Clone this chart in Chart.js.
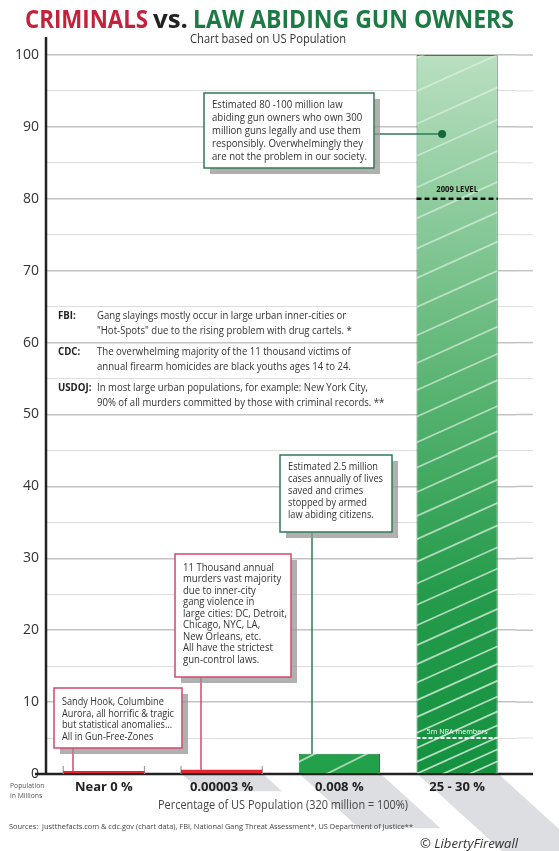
<!DOCTYPE html>
<html lang="en">
<head>
    <meta charset="UTF-8">
    <title>Criminals vs. Law Abiding Gun Owners</title>
    <script src="https://cdn.jsdelivr.net/npm/chart.js"></script>
    <style>
        body {
            margin: 0;
            padding: 0;
            background: #ffffff;
        }
        #wrap {
            width: 559px;
            height: 851px;
        }
    </style>
</head>
<body>
    <div id="wrap"><canvas id="gunChart" width="559" height="851"></canvas></div>

    <script>
        // data (population in millions)
        const categories = ['Near 0 %', '0.00003 %', '0.008 %', '25 - 30 %'];
        const populationMillions = [0.4, 0.6, 2.8, 100];
        const yMin = 0;
        const yMax = 100;
        const yTickStep = 5;
        const yLabelStep = 10;
        const level2009 = 80;
        const nraMembers = 5;
        const ownersDot = 89;

        const ownersNote = ['Estimated 80 -100 million law', 'abiding gun owners who own 300', 'million guns legally and use them', 'responsibly. Overwhelmingly they', 'are not the problem in our society.'];
        const savedNote = ['Estimated 2.5 million', 'cases annually of lives', 'saved and crimes', 'stopped by armed', 'law abiding citizens.'];
        const murdersNote = ['11 Thousand annual', 'murders vast majority', 'due to inner-city', 'gang violence in', 'large cities: DC, Detroit,', 'Chicago, NYC, LA,', 'New Orleans, etc.', 'All have the strictest', 'gun-control laws.'];
        const anomalyNote = ['Sandy Hook, Columbine', 'Aurora, all horrific & tragic', 'but statistical anomalies...', 'All in Gun-Free-Zones'];
        const agencyLabels = ['FBI:', 'CDC:', 'USDOJ:'];
        const agencyText = [
            ['Gang slayings mostly occur in large urban inner-cities or', '"Hot-Spots" due to the rising problem with drug cartels. *'],
            ['The overwhelming majority of the 11 thousand victims of', 'annual firearm homicides are black youths ages 14 to 24.'],
            ['In most large urban populations, for example: New York City,', '90% of all murders committed by those with criminal records. **']
        ];

        const GREEN_LINE = '#2e7a55';
        const RED_LINE = '#d2486a';
        const FONT = '"Open Sans", "Noto Sans", sans-serif';

        // text squeezed horizontally to look like the narrow original face
        function squeezed(ctx, str, x, y, font, color, sx, align) {
            ctx.save();
            ctx.font = font;
            ctx.fillStyle = color;
            ctx.textBaseline = 'middle';
            const w = ctx.measureText(str).width * sx;
            let left = x;
            if (align === 'center') left = x - w / 2;
            ctx.translate(left, y);
            ctx.scale(sx, 1);
            ctx.textAlign = 'left';
            ctx.fillText(str, 0, 0);
            ctx.restore();
        }

        function fitWidth(ctx, str, font, width) {
            ctx.save();
            ctx.font = font;
            const w = ctx.measureText(str).width;
            ctx.restore();
            return width / w;
        }

        function callout(ctx, box, lines, color, refLine, refWidth) {
            const font = '10.5px ' + FONT;
            const sx = fitWidth(ctx, lines[refLine], font, refWidth);
            ctx.save();
            ctx.fillStyle = 'rgba(150,150,150,0.75)';
            ctx.fillRect(box.x + 6, box.y + 6, box.w, box.h);
            ctx.fillStyle = '#ffffff';
            ctx.fillRect(box.x, box.y, box.w, box.h);
            ctx.strokeStyle = color;
            ctx.lineWidth = 1.5;
            ctx.strokeRect(box.x, box.y, box.w, box.h);
            ctx.restore();
            lines.forEach((t, i) => squeezed(ctx, t, box.x + 8, box.first + i * box.step, font, '#333333', sx));
        }

        function connector(ctx, x1, y1, x2, y2, color) {
            ctx.save();
            ctx.strokeStyle = color;
            ctx.lineWidth = 1.5;
            ctx.beginPath();
            ctx.moveTo(x1, y1);
            ctx.lineTo(x2, y2);
            ctx.stroke();
            ctx.restore();
        }

        // diagonal white hatching inside a bar, denser towards the bottom
        function hatch(ctx, el, slope, spacingFn, alphaFn) {
            const left = el.x - el.width / 2, right = el.x + el.width / 2;
            const top = el.y, bottom = el.base;
            ctx.save();
            ctx.beginPath();
            ctx.rect(left, top, right - left, bottom - top);
            ctx.clip();
            ctx.lineWidth = 1.8;
            const w = right - left;
            let y = bottom + slope * w;
            while (y > top) {
                const frac = Math.min(1, Math.max(0, (bottom - y) / (bottom - top)));
                ctx.strokeStyle = 'rgba(255,255,255,' + alphaFn(frac) + ')';
                ctx.beginPath();
                ctx.moveTo(left, y);
                ctx.lineTo(right, y - slope * w);
                ctx.stroke();
                y -= spacingFn(frac);
            }
            ctx.restore();
        }

        const decorPlugin = {
            id: 'decor',
            beforeDraw(chart) {
                const ctx = chart.ctx;
                const meta = chart.getDatasetMeta(0);
                // long grey shadows falling down-right from the bar feet
                const lengths = [0, 18, 55, 95];
                ctx.save();
                ctx.fillStyle = '#dcdee1';
                meta.data.forEach((el, i) => {
                    const L = lengths[i];
                    if (!L) return;
                    const l = el.x - el.width / 2, r = el.x + el.width / 2, b = el.base;
                    ctx.beginPath();
                    ctx.moveTo(l, b);
                    ctx.lineTo(r, b);
                    ctx.lineTo(r + L * 1.1, b + L);
                    ctx.lineTo(l + L * 1.1, b + L);
                    ctx.closePath();
                    ctx.fill();
                });
                ctx.restore();
            },
            beforeDatasetsDraw(chart) {
                const ctx = chart.ctx;
                const area = chart.chartArea;
                const yScale = chart.scales.y;
                ctx.save();
                // grid lines run a little past the last category
                yScale.ticks.forEach(t => {
                    const py = yScale.getPixelForValue(t.value);
                    const major = t.value % yLabelStep === 0;
                    ctx.strokeStyle = major ? '#c4c4c4' : '#dedede';
                    ctx.lineWidth = major ? 1.5 : 1;
                    ctx.beginPath();
                    ctx.moveTo(area.right, py);
                    ctx.lineTo(area.right + 17, py);
                    ctx.stroke();
                });
                // axes
                ctx.strokeStyle = '#222222';
                ctx.lineWidth = 2.5;
                ctx.beginPath();
                ctx.moveTo(area.left + 1, area.top - 18);
                ctx.lineTo(area.left + 1, area.bottom + 1);
                ctx.moveTo(area.left - 10, area.bottom);
                ctx.lineTo(area.right + 17, area.bottom);
                ctx.stroke();
                // little grey marks at the edges of the tiny bars
                const meta = chart.getDatasetMeta(0);
                ctx.strokeStyle = '#9a9a9a';
                ctx.lineWidth = 1.2;
                [0, 1].forEach(i => {
                    const el = meta.data[i];
                    [el.x - el.width / 2, el.x + el.width / 2].forEach(px => {
                        ctx.beginPath();
                        ctx.moveTo(px, area.bottom - 8);
                        ctx.lineTo(px, area.bottom);
                        ctx.stroke();
                    });
                });
                ctx.restore();
            },
            afterDatasetsDraw(chart) {
                const ctx = chart.ctx;
                const yScale = chart.scales.y;
                const meta = chart.getDatasetMeta(0);
                const b3 = meta.data[2], b4 = meta.data[3];

                hatch(ctx, b3, 0.5, () => 26, () => 0.6);
                hatch(ctx, b4, 0.45, f => 12 + 22 * Math.pow(f, 0.6), f => 0.7 - 0.3 * f);

                const l4 = b4.x - b4.width / 2, r4 = b4.x + b4.width / 2;

                // 2009 level
                const y80 = yScale.getPixelForValue(level2009);
                ctx.save();
                ctx.strokeStyle = '#111111';
                ctx.lineWidth = 2.5;
                ctx.setLineDash([5, 3]);
                ctx.beginPath();
                ctx.moveTo(l4, y80);
                ctx.lineTo(r4, y80);
                ctx.stroke();
                ctx.restore();
                squeezed(ctx, '2009 LEVEL', b4.x, y80 - 9, 'bold 8.5px ' + FONT, '#111111', 0.9, 'center');

                // NRA members
                const y5 = yScale.getPixelForValue(nraMembers);
                ctx.save();
                ctx.strokeStyle = '#ffffff';
                ctx.lineWidth = 2;
                ctx.setLineDash([4, 2]);
                ctx.beginPath();
                ctx.moveTo(l4, y5);
                ctx.lineTo(r4, y5);
                ctx.stroke();
                ctx.restore();
                squeezed(ctx, '5m NRA members', b4.x, y5 - 6, '8px ' + FONT, '#ffffff', 0.9, 'center');

                // agency notes
                const labelFont = 'bold 10.5px ' + FONT;
                const bodyFont = '10.5px ' + FONT;
                const bodySx = fitWidth(ctx, agencyText[2][0], bodyFont, 271);
                const rows = [316, 352, 388];
                agencyLabels.forEach((lab, i) => {
                    squeezed(ctx, lab, 58, rows[i], labelFont, '#222222', 0.92);
                    agencyText[i].forEach((t, j) => squeezed(ctx, t, 97, rows[i] + j * 15, bodyFont, '#333333', bodySx));
                });

                // callouts with their leader lines
                const dotX = b4.x - 15, dotY = yScale.getPixelForValue(ownersDot);
                connector(ctx, 374, dotY, dotX, dotY, GREEN_LINE);
                ctx.save();
                ctx.fillStyle = '#17683b';
                ctx.beginPath();
                ctx.arc(dotX, dotY, 4, 0, Math.PI * 2);
                ctx.fill();
                ctx.restore();
                callout(ctx, { x: 204, y: 93, w: 170, h: 75, first: 105.5, step: 12.8 }, ownersNote, GREEN_LINE, 4, 155);

                connector(ctx, 312, 532, 312, b3.y, GREEN_LINE);
                callout(ctx, { x: 280, y: 455, w: 112, h: 77, first: 467, step: 12 }, savedNote, GREEN_LINE, 1, 95);

                const b2 = meta.data[1], b1 = meta.data[0];
                connector(ctx, 201, 677, 201, b2.y, RED_LINE);
                callout(ctx, { x: 175, y: 554, w: 116, h: 123, first: 568, step: 11.5 }, murdersNote, RED_LINE, 4, 104);

                connector(ctx, 73, 748, 73, b1.y, RED_LINE);
                callout(ctx, { x: 54, y: 688, w: 128, h: 60, first: 702, step: 11.6 }, anomalyNote, RED_LINE, 1, 112);
            },
            afterDraw(chart) {
                const ctx = chart.ctx;
                const titleFont = 'bold 25px ' + FONT;
                const parts = [
                    ['CRIMINALS', 25, 123, '#c4213a'],
                    ['vs.', 153, 35, '#222222'],
                    ['LAW ABIDING GUN OWNERS', 193, 321, '#1d7a45']
                ];
                parts.forEach(p => squeezed(ctx, p[0], p[1], 21, titleFont, p[3], fitWidth(ctx, p[0], titleFont, p[2])));

                const sub = 'Chart based on US Population';
                squeezed(ctx, sub, 190, 40, '12px ' + FONT, '#333333', fitWidth(ctx, sub, '12px ' + FONT, 156));

                squeezed(ctx, 'Population', 10, 786, '8px ' + FONT, '#555555', 0.85);
                squeezed(ctx, 'in Millions', 10, 796, '8px ' + FONT, '#555555', 0.85);

                const xTitle = 'Percentage of US Population (320 million = 100%)';
                squeezed(ctx, xTitle, 158, 806, '12px ' + FONT, '#444444', fitWidth(ctx, xTitle, '12px ' + FONT, 250));

                const src = 'Sources:  justthefacts.com & cdc.gov (chart data), FBI, National Gang Threat Assessment*, US Department of Justice**';
                squeezed(ctx, src, 9, 827, '6.5px ' + FONT, '#444444', fitWidth(ctx, src, '6.5px ' + FONT, 404));

                const copy = '\u00A9 LibertyFirewall';
                squeezed(ctx, copy, 420, 844, 'italic 12.5px ' + FONT, '#333333', fitWidth(ctx, copy, 'italic 12.5px ' + FONT, 98));
            }
        };

        function barFill(context) {
            const i = context.dataIndex;
            if (i < 2) return '#e3262e';
            const chart = context.chart;
            const area = chart.chartArea;
            if (!area) return '#23a04a';
            if (i === 2) {
                const el = chart.getDatasetMeta(0).data[2];
                if (el && el.y !== undefined) {
                    const g3 = chart.ctx.createLinearGradient(0, el.y, 0, el.base);
                    g3.addColorStop(0, '#2fab56');
                    g3.addColorStop(1, '#1c9545');
                    return g3;
                }
                return '#23a04a';
            }
            const g = chart.ctx.createLinearGradient(0, area.top, 0, area.bottom);
            g.addColorStop(0, '#b9dfc0');
            g.addColorStop(0.45, '#5cb574');
            g.addColorStop(0.75, '#259b4b');
            g.addColorStop(1, '#14923f');
            return g;
        }

        new Chart(document.getElementById('gunChart'), {
            type: 'bar',
            data: {
                labels: categories,
                datasets: [{
                    label: 'Population in Millions',
                    data: populationMillions,
                    backgroundColor: barFill,
                    borderColor: ['#e3262e', '#e3262e', '#1b7d3c', '#2a8748'],
                    borderWidth: [0, 0, 1, 1],
                    borderSkipped: 'bottom',
                    barPercentage: 0.69,
                    categoryPercentage: 1
                }]
            },
            options: {
                responsive: false,
                animation: false,
                devicePixelRatio: 1,
                layout: { padding: { top: 55, right: 43, left: 0, bottom: 0 } },
                plugins: {
                    legend: { display: false },
                    tooltip: { enabled: false }
                },
                scales: {
                    x: {
                        afterFit: s => { s.height = 77; },
                        grid: { display: false, drawTicks: false },
                        border: { display: false },
                        ticks: {
                            color: '#222222',
                            padding: 5,
                            font: { family: FONT, size: 13, weight: 'bold' }
                        }
                    },
                    y: {
                        min: yMin,
                        max: yMax,
                        afterFit: s => { s.width = 45; },
                        border: { display: false },
                        grid: {
                            drawTicks: false,
                            color: c => (c.tick.value % yLabelStep === 0 ? '#c4c4c4' : '#dedede'),
                            lineWidth: c => (c.tick.value % yLabelStep === 0 ? 1.5 : 1)
                        },
                        ticks: {
                            stepSize: yTickStep,
                            padding: 6,
                            color: '#333333',
                            font: { family: FONT, size: 14 },
                            callback: v => (v % yLabelStep === 0 ? v : '')
                        }
                    }
                }
            },
            plugins: [decorPlugin]
        });
    </script>
</body>
</html>
